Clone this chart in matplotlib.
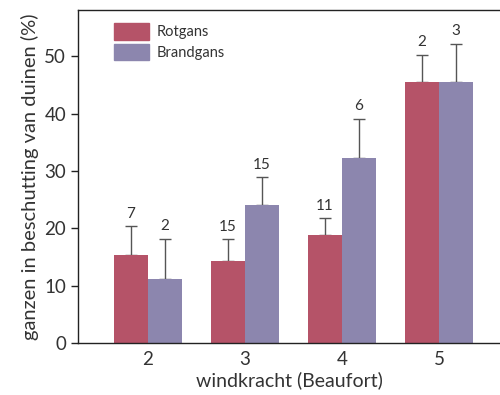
import numpy as np
import matplotlib.pyplot as plt
from matplotlib.patches import Patch

plt.rcParams['font.family'] = ['Lato', 'DejaVu Sans']

# data
windkracht = ['2', '3', '4', '5']
rotgans = [15.3, 14.3, 18.8, 45.6]
rotgans_err = [5.1, 3.8, 3.0, 4.7]
rotgans_n = [7, 15, 11, 2]
brandgans = [11.2, 24.1, 32.2, 45.6]
brandgans_err = [7.0, 4.8, 6.9, 6.6]
brandgans_n = [2, 15, 6, 3]

c_rot = '#b55368'
c_brand = '#8c86ae'
c_text = '#333333'
c_err = '#555555'

fig = plt.figure(figsize=(5.0, 3.95), dpi=100)
ax = fig.add_axes([0.156, 0.1316, 0.844, 0.843])

x = np.arange(len(windkracht))
w = 0.35

for pos, vals, err, ns, col in [(x - w / 2, rotgans, rotgans_err, rotgans_n, c_rot),
                                (x + w / 2, brandgans, brandgans_err, brandgans_n, c_brand)]:
    ax.bar(pos, vals, width=w, color=col, zorder=2)
    ax.errorbar(pos, vals, yerr=[np.zeros(len(err)), err], fmt='none',
                ecolor=c_err, elinewidth=1.0, capsize=4.5, capthick=1.0, zorder=1)
    for xi, v, e, n in zip(pos, vals, err, ns):
        ax.annotate(str(n), xy=(xi, v + e), xytext=(0, 4), textcoords='offset points',
                    ha='center', va='bottom', fontsize=11, color=c_text)

ax.set_xlim(-0.722, 3.629)
ax.set_ylim(0, 58.1)
ax.set_xticks(x)
ax.set_xticklabels(windkracht)
ax.set_yticks(np.arange(0, 51, 10))

ax.spines['right'].set_visible(False)
for s in ['left', 'top', 'bottom']:
    ax.spines[s].set_color('#222222')
    ax.spines[s].set_linewidth(1.0)
ax.tick_params(axis='x', length=0, pad=6, labelsize=13.5, labelcolor=c_text)
ax.tick_params(axis='y', length=5, width=1.0, color='#222222', labelsize=13.5, labelcolor=c_text)

ax.set_xlabel('windkracht (Beaufort)', fontsize=14, color=c_text, labelpad=2)
ax.set_ylabel('ganzen in beschutting van duinen (%)', fontsize=14.5, color=c_text, labelpad=4)

handles = [Patch(color=c_rot), Patch(color=c_brand)]
ax.legend(handles, ['Rotgans', 'Brandgans'], loc='upper left',
          bbox_to_anchor=(0.085, 0.961), frameon=False, fontsize=10.5,
          handlelength=2.4, handleheight=1.37, labelspacing=0.27,
          handletextpad=0.5, borderpad=0, borderaxespad=0, labelcolor=c_text)

fig.savefig('out.png', dpi=100)
